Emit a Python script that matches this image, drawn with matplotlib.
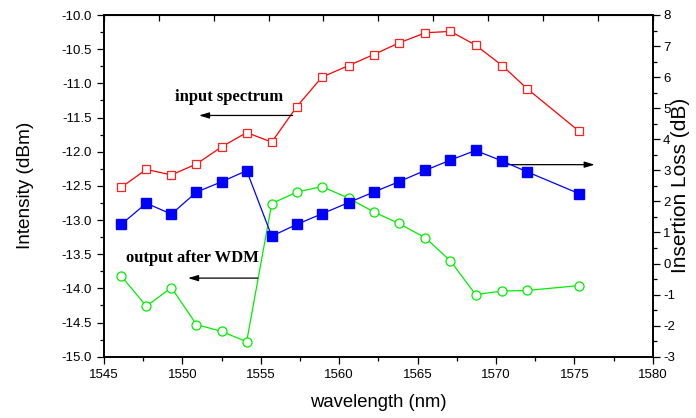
import matplotlib
matplotlib.use("Agg")
import matplotlib.pyplot as plt
from matplotlib.ticker import MultipleLocator, FixedLocator, NullFormatter, FormatStrFormatter

plt.rcParams["axes.unicode_minus"] = False

wavelength = [1546.1, 1547.7, 1549.3, 1550.9, 1552.5, 1554.1, 1555.7, 1557.3, 1558.9,
              1560.6, 1562.2, 1563.8, 1565.5, 1567.1, 1568.7, 1570.4, 1572.0, 1575.3]
input_spectrum = [-12.52, -12.26, -12.34, -12.18, -11.93, -11.72, -11.86, -11.34, -10.91,
                  -10.74, -10.58, -10.41, -10.26, -10.24, -10.44, -10.74, -11.08, -11.70]
output_wdm = [-13.82, -14.26, -13.99, -14.53, -14.63, -14.78, -12.76, -12.59, -12.51,
              -12.68, -12.88, -13.05, -13.26, -13.60, -14.09, -14.04, -14.03, -13.96]
insertion_loss = [1.26, 1.94, 1.59, 2.30, 2.63, 2.99, 0.88, 1.26, 1.60,
                  1.96, 2.30, 2.63, 3.00, 3.33, 3.64, 3.30, 2.95, 2.25]

fig = plt.figure(figsize=(6.96, 4.18), dpi=100)
ax = fig.add_axes([104/696, 1-356.7/418, (652.7-104)/696, (356.7-15)/418])
ax2 = ax.twinx()

sans = "Liberation Sans"
serif = "Liberation Serif"

ax.plot(wavelength, input_spectrum, color="#ff0000", lw=0.9, marker="s", ms=6,
        mfc="white", mec="#ff2020", mew=0.9, zorder=3)
ax.plot(wavelength, output_wdm, color="#00ee00", lw=0.9, marker="o", ms=6.5,
        mfc="white", mec="#00ee00", mew=0.9, zorder=3)
ax2.plot(wavelength, insertion_loss, color="#0000ff", lw=0.9, marker="s", ms=6.5,
         mfc="#0000ff", mec="#0000ff", zorder=3)

ax.set_xlim(1545, 1580)
ax.set_ylim(-15.0, -10.0)
ax2.set_ylim(-3, 8)

ax.xaxis.set_major_locator(MultipleLocator(5))
ax.xaxis.set_minor_locator(MultipleLocator(2.5))
ax.yaxis.set_major_locator(MultipleLocator(0.5))
ax.yaxis.set_minor_locator(MultipleLocator(0.25))
ax.yaxis.set_major_formatter(FormatStrFormatter("%.1f"))
ax2.yaxis.set_major_locator(MultipleLocator(1))
ax2.yaxis.set_minor_locator(MultipleLocator(0.5))

for a in (ax, ax2):
    a.tick_params(which="major", length=5, width=0.9, direction="out", labelsize=9.5)
    a.tick_params(which="minor", length=3, width=0.9, direction="out")
    for lab in a.get_xticklabels() + a.get_yticklabels():
        lab.set_fontfamily(sans)
    for s in a.spines.values():
        s.set_linewidth(1.2)

ax.tick_params(axis="both", which="both", top=False, right=False)
ax2.tick_params(axis="y", which="both", left=False, right=True, pad=2.5)

# top axis ticks (inward)
top = ax.secondary_xaxis("top")
top.xaxis.set_major_locator(FixedLocator([1545 + 3.5 * k for k in range(11)]))
top.xaxis.set_minor_locator(FixedLocator([]))
top.xaxis.set_major_formatter(NullFormatter())
top.tick_params(which="major", direction="in", length=4, width=0.9)

ax.set_xlabel("wavelength (nm)", fontfamily=sans, fontsize=13.3)
ax.set_ylabel("Intensity (dBm)", fontfamily=sans, fontsize=13.7)
ax2.set_ylabel("Insertion Loss (dB)", fontfamily=sans, fontsize=15)
ax.xaxis.set_label_coords(0.5, -0.108)
ax.yaxis.set_label_coords(-0.128, 0.5)
ax2.yaxis.set_label_coords(1.033, 0.5)

arrow_kw = dict(arrowstyle="-|>,head_length=0.6,head_width=0.18", color="black", lw=0.9,
                shrinkA=0, shrinkB=0)

ax.text(1553.0, -11.20, "input spectrum", fontfamily=serif, fontweight="bold",
        fontsize=12, ha="center", va="center")
ax.annotate("", xy=(1551.06, -11.47), xytext=(1557.03, -11.47), arrowprops=arrow_kw)

ax.text(1550.64, -13.56, "output after WDM", fontfamily=serif, fontweight="bold",
        fontsize=12, ha="center", va="center")
ax.annotate("", xy=(1550.36, -13.85), xytext=(1554.80, -13.85), arrowprops=arrow_kw)

ax.annotate("", xy=(1576.30, -12.19), xytext=(1570.78, -12.19), arrowprops=arrow_kw)

fig.savefig("out.png", dpi=100)
